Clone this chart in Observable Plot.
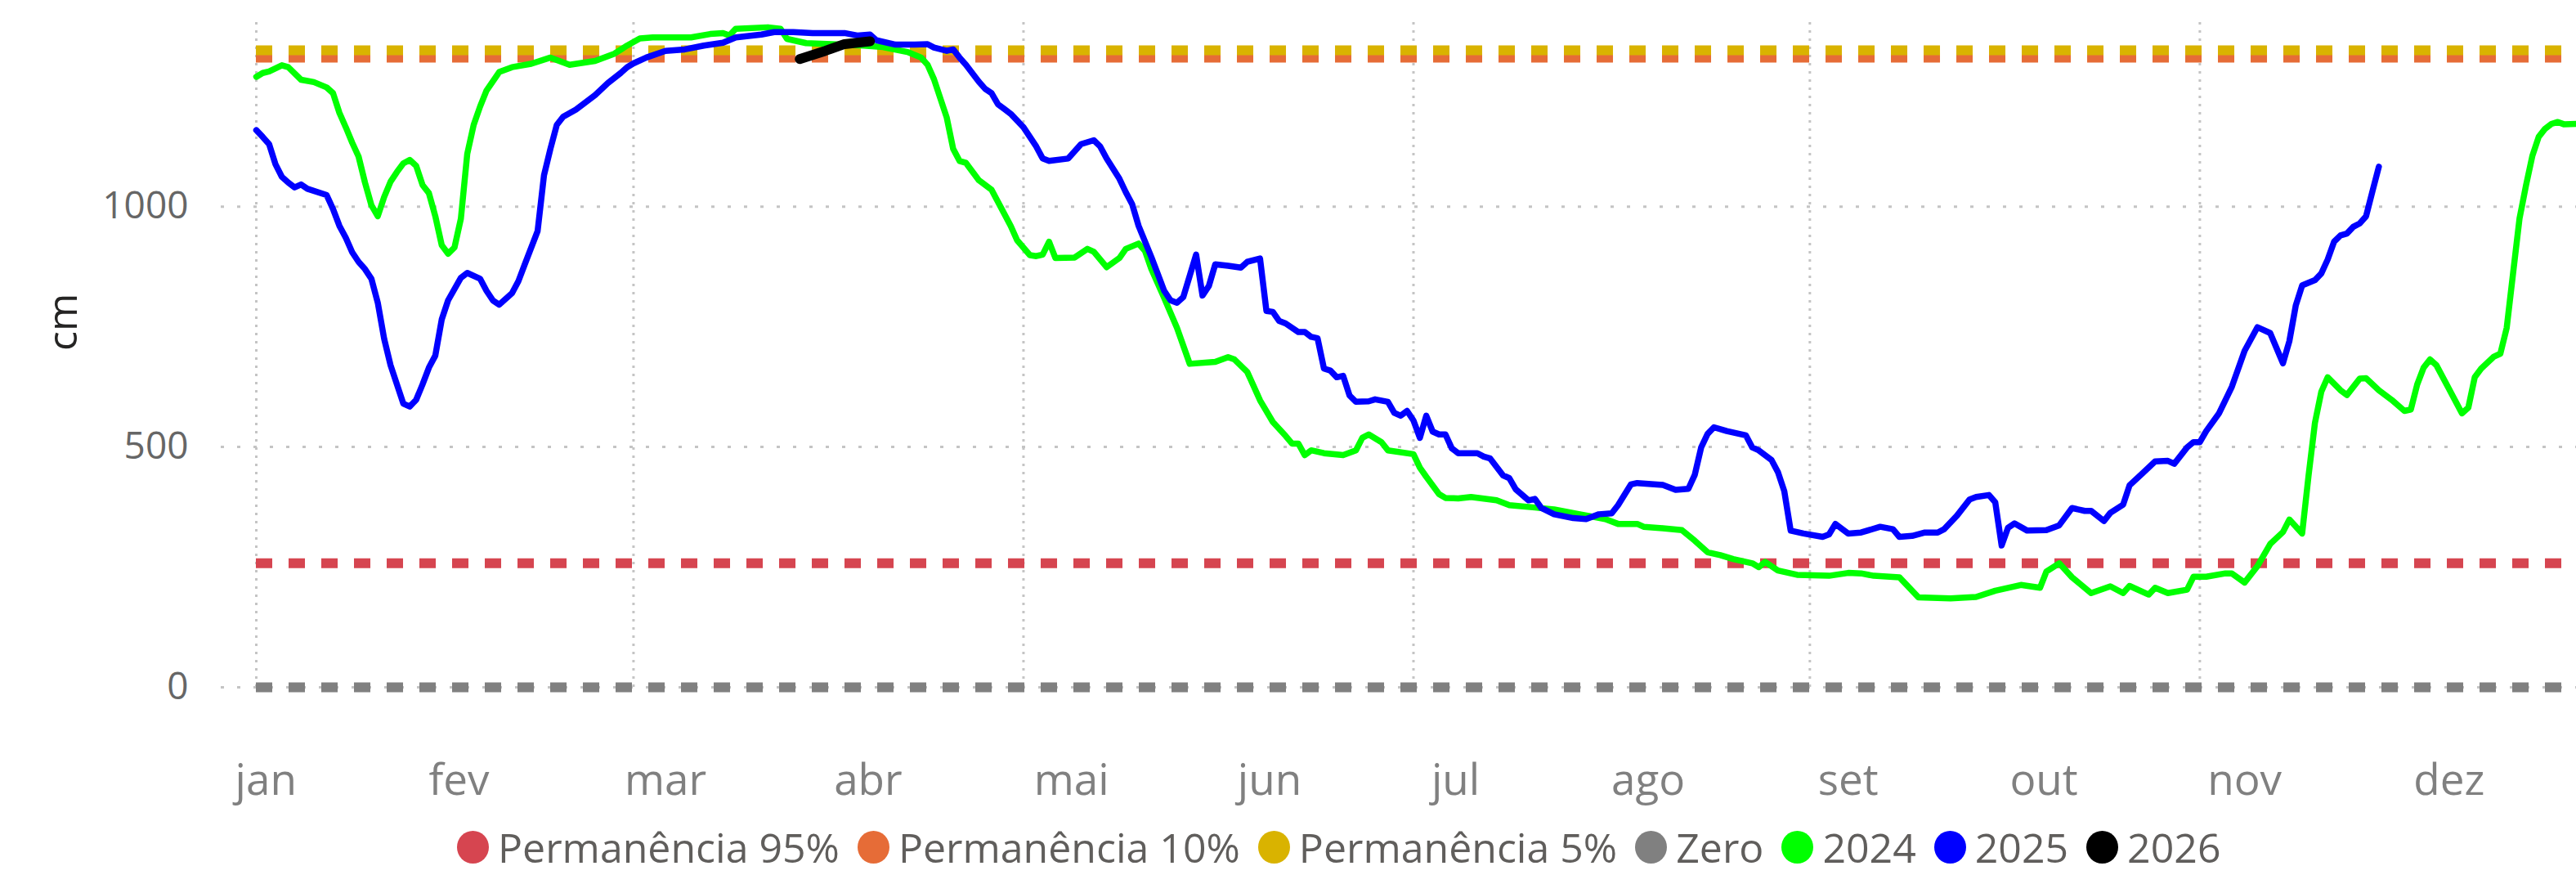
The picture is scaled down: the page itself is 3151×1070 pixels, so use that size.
<!DOCTYPE html>
<html><head><meta charset="utf-8">
<script src="https://cdn.jsdelivr.net/npm/d3@7"></script>
<script src="https://cdn.jsdelivr.net/npm/@observablehq/plot@0.6"></script>
<style>
body{margin:0;background:#fff;width:3151px;height:1070px;overflow:hidden;font-family:"Segoe UI","Open Sans",sans-serif}
#legend{box-sizing:border-box;display:flex;align-items:center;height:70px;padding-top:2px;padding-left:559px;color:#605E5C;font-size:50px;line-height:50px;white-space:nowrap}
.item{display:flex;align-items:center;margin-right:22px}
.dot{width:39px;height:40px;border-radius:50%;margin-right:11px;flex:none}
</style></head><body><div id="chart"></div><div id="legend"></div>
<script>
// ---- data (day of year, cm) ----
const monthLabels = ["jan","fev","mar","abr","mai","jun","jul","ago","set","out","nov","dez"];
const monthLabelDays = [1.5,31.7,64,95.7,127.5,158.5,187.6,217.7,249,279.6,311,343];
const gridDays = [0,59,120,181,243,304];
const yTicks = [0,500,1000];

const day2024 = [0,1,2,4,5,7,9,11,12,13,14,15,16,17,18,19,20,21,22,23,24,25,26,27,28,29,30,31,32,33,34,35,36,38,40,43,46,49,53,56,58,60,62,68,71,73,74,75,80,82,83,86,90,95,98,102,104,105,106,107,108,109,110,111,113,115,116,118,119,121,122,123,124,125,128,130,131,133,135,136,138,139,140,142,144,146,150,152,153,155,157,159,161,162,163,164,165,167,170,172,173,174,176,177,181,182,183,185,186,188,190,194,196,200,203,207,211,213,216,217,220,223,225,227,229,231,234,235,236,238,241,246,249,251,253,257,260,265,269,272,276,279,280,282,284,285,287,290,292,293,296,297,299,302,303,305,308,309,311,313,315,317,318,320,321,322,323,324,326,327,329,330,332,334,336,337,338,339,340,341,343,345,346,347,348,350,351,352,353,354,355,356,357,358,359,360,361,363];
const cm2024 = [1270,1278,1281,1294,1290,1264,1259,1248,1236,1195,1165,1133,1104,1050,1003,980,1020,1052,1072,1090,1097,1085,1045,1028,980,920,902,915,975,1110,1170,1208,1241,1280,1290,1297,1310,1295,1303,1318,1335,1350,1352,1352,1359,1361,1356,1370,1373,1370,1349,1340,1338,1335,1332,1321,1310,1295,1265,1225,1185,1120,1095,1091,1055,1035,1010,960,930,899,897,900,927,893,894,912,906,874,893,912,923,908,870,810,748,673,677,687,682,656,597,552,523,507,507,483,493,487,483,493,519,526,510,493,485,457,438,402,394,393,396,389,379,374,370,360,350,340,340,334,331,327,305,281,275,267,258,250,261,243,234,232,238,237,232,229,187,185,188,201,213,207,241,258,229,218,196,210,196,211,193,207,196,203,230,230,237,237,218,252,298,323,349,320,440,550,615,645,618,608,642,643,618,598,575,578,630,665,682,670,620,570,582,645,663,688,694,748,862,975,1043,1105,1145,1162,1172,1176,1171,1172];

const day2025 = [0,1,2,3,4,5,6,7,8,11,12,13,14,15,16,17,18,19,20,21,22,23,24,25,26,27,28,29,30,32,33,35,36,37,38,40,41,42,44,45,46,47,48,50,53,55,57,58,59,61,64,67,70,73,75,79,81,84,87,92,94,96,97,100,103,105,106,108,109,110,111,113,114,115,116,117,118,120,121,122,123,124,127,128,129,131,132,133,135,136,137,138,140,141,142,143,144,145,147,148,149,150,152,154,155,157,158,159,160,161,163,164,165,166,167,168,169,170,171,172,174,175,177,178,179,180,181,182,183,184,185,186,187,188,191,192,193,195,196,197,199,200,201,203,206,208,210,212,213,215,216,220,222,224,225,226,227,228,230,233,234,235,237,238,239,240,242,245,246,247,249,251,254,256,257,259,261,263,264,266,268,269,271,272,273,274,275,277,280,282,284,286,287,289,290,292,293,295,297,299,300,302,303,304,305,307,309,311,313,315,317,318,319,320,322,323,324,325,326,327,328,329,330,331,332];
const cm2025 = [1159,1145,1130,1088,1062,1050,1040,1046,1037,1024,995,960,935,905,885,870,850,800,725,670,630,590,584,598,630,665,690,765,805,852,862,850,825,805,796,820,845,880,949,1065,1120,1170,1187,1202,1232,1257,1278,1290,1298,1310,1324,1327,1335,1341,1352,1358,1363,1363,1361,1361,1356,1358,1346,1337,1337,1338,1331,1324,1327,1310,1295,1260,1245,1236,1213,1203,1193,1165,1145,1125,1100,1095,1100,1115,1130,1138,1125,1100,1058,1030,1005,960,895,860,825,805,800,812,900,815,835,880,877,873,885,892,783,781,762,757,739,739,729,726,663,659,645,648,607,594,595,599,594,571,565,575,555,519,565,532,526,526,497,487,487,480,476,441,435,412,389,392,373,360,352,350,360,362,379,422,425,421,411,413,442,499,527,541,533,524,499,493,473,448,408,326,320,313,318,340,320,322,334,329,313,315,322,322,329,357,391,396,400,385,295,332,341,326,327,337,373,367,367,346,363,380,420,445,470,471,465,499,510,510,533,570,625,700,749,737,674,720,794,836,847,861,890,927,940,944,958,965,980,1032,1083];

const day2026 = [85,89,92,96];
const cm2026 = [1307,1324,1338,1344];

const refNames = ["Zero","Permanência 95%","Permanência 10%","Permanência 5%"];
const refValues = [0,258,1310,1325];
const refColors = ["#808080","#D64550","#E66C37","#D9B300"];

const legendNames = ["Permanência 95%","Permanência 10%","Permanência 5%","Zero","2024","2025","2026"];
const legendColors = ["#D64550","#E66C37","#D9B300","#808080","#00FF00","#0000FF","#000000"];

// ---- build ----
const D0 = Date.UTC(2025,0,1);
const toDate = d => new Date(D0 + d*864e5);
const series = (days, vals) => days.map((d,i)=>({date: toDate(d), cm: vals[i]}));
const s2024 = series(day2024, cm2024);
const s2025 = series(day2025, cm2025);
const s2026 = series(day2026, cm2026);
const refs = refValues.map((v,i)=>({name: refNames[i], cm: v, color: refColors[i]}));
const labelDates = monthLabelDays.map(toDate);

const chart = Plot.plot({
  width: 3151, height: 1000,
  marginLeft: 270, marginRight: 0, marginTop: 17, marginBottom: 160,
  x: {type: "utc", domain: [toDate(-5.5), toDate(362.9)]},
  y: {domain: [0, 1400]},
  style: {fontFamily: "'Segoe UI','Open Sans',sans-serif", background: "white", overflow: "visible"},
  marks: [
    Plot.ruleY(yTicks, {stroke: "#c4c4c4", strokeWidth: 3, strokeDasharray: "4,16"}),
    Plot.ruleX(gridDays.map(toDate), {y1: 0, y2: 1392, stroke: "#c4c4c4", strokeWidth: 3, strokeDasharray: "3,7"}),
    ...refs.map(r => Plot.ruleY([r], {y: "cm", x1: toDate(0), x2: toDate(362.9), stroke: r.color, strokeWidth: 12, strokeDasharray: "20,20"})),
    Plot.line(s2024, {x: "date", y: "cm", stroke: "#00FF00", strokeWidth: 7.5, strokeLinejoin: "round", strokeLinecap: "round", clip: true}),
    Plot.line(s2025, {x: "date", y: "cm", stroke: "#0000FF", strokeWidth: 7.5, strokeLinejoin: "round", strokeLinecap: "round"}),
    Plot.line(s2026, {x: "date", y: "cm", stroke: "#000000", strokeWidth: 12, strokeLinejoin: "round", strokeLinecap: "round"}),
    Plot.axisY({ticks: yTicks, tickFormat: d => String(d), tickSize: 0, tickPadding: 40, fontSize: 46, fill: "#666666", label: null}),
    Plot.axisX({ticks: labelDates, tickFormat: d => monthLabels[labelDates.findIndex(t => +t === +d)], tickSize: 0, tickPadding: 94, fontSize: 53, fill: "#808080", label: null}),
    Plot.text(["cm"], {text: d => d, frameAnchor: "left", dx: -193, rotate: -90, fontSize: 50, fill: "#252423"})
  ]
});
document.getElementById("chart").appendChild(chart);

const lg = document.getElementById("legend");
legendNames.forEach((n,i) => {
  const it = document.createElement("div"); it.className = "item";
  const dot = document.createElement("span"); dot.className = "dot"; dot.style.background = legendColors[i];
  const tx = document.createElement("span"); tx.textContent = n;
  it.appendChild(dot); it.appendChild(tx); lg.appendChild(it);
});
</script></body></html>
